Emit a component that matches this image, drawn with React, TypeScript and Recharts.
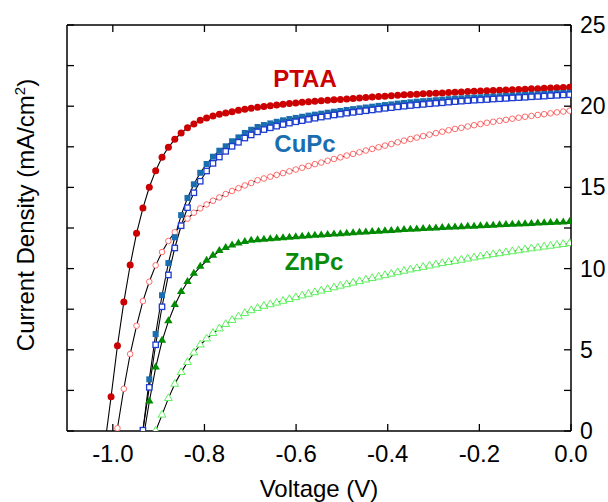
import React from 'react';
import { LineChart, Line, XAxis, YAxis } from 'recharts';

// voltage sweep (V), one row per measured point
const VOLTAGE = [
  -1.0177, -1.0038, -0.9899, -0.976, -0.9621, -0.9482, -0.9343, -0.9204, -0.9065, -0.8926,
  -0.8787, -0.8648, -0.8509, -0.837, -0.8231, -0.8092, -0.7953, -0.7814, -0.7675, -0.7536,
  -0.7397, -0.7258, -0.7119, -0.698, -0.6841, -0.6702, -0.6563, -0.6424, -0.6285, -0.6146,
  -0.6007, -0.5868, -0.5729, -0.559, -0.5451, -0.5312, -0.5173, -0.5034, -0.4895, -0.4756,
  -0.4617, -0.4478, -0.4339, -0.42, -0.4061, -0.3922, -0.3783, -0.3644, -0.3505, -0.3366,
  -0.3227, -0.3088, -0.2949, -0.281, -0.2671, -0.2532, -0.2393, -0.2254, -0.2115, -0.1976,
  -0.1837, -0.1698, -0.1559, -0.142, -0.1281, -0.1142, -0.1003, -0.0864, -0.0725, -0.0586,
  -0.0447, -0.0308, -0.0169, -0.003,
];

// current density (mA/cm2)
const PTAA = [
  -0.9, 2.11, 5.25, 7.94, 10.22, 12.17, 13.73, 15.01, 16.03, 16.85,
  17.47, 17.96, 18.35, 18.68, 18.9, 19.13, 19.27, 19.4, 19.5, 19.58,
  19.66, 19.75, 19.81, 19.87, 19.93, 19.98, 20.03, 20.08, 20.12, 20.16,
  20.2, 20.24, 20.27, 20.3, 20.33, 20.36, 20.39, 20.42, 20.45, 20.48,
  20.51, 20.54, 20.57, 20.6, 20.62, 20.65, 20.67, 20.7, 20.72, 20.74,
  20.76, 20.78, 20.8, 20.82, 20.84, 20.86, 20.88, 20.9, 20.92, 20.93,
  20.95, 20.97, 20.98, 21.0, 21.02, 21.03, 21.05, 21.07, 21.08, 21.1,
  21.12, 21.13, 21.15, 21.17,
];
const PTAA_OPEN = [
  null, -2.3, 0.17, 2.6, 4.74, 6.48, 8.0, 9.19, 10.2, 11.02,
  11.7, 12.24, 12.68, 13.08, 13.44, 13.71, 13.95, 14.18, 14.38, 14.59,
  14.78, 14.95, 15.12, 15.27, 15.44, 15.55, 15.66, 15.77, 15.88, 15.99,
  16.1, 16.21, 16.32, 16.43, 16.53, 16.64, 16.75, 16.85, 16.96, 17.06,
  17.16, 17.27, 17.37, 17.47, 17.57, 17.67, 17.78, 17.88, 17.98, 18.07,
  18.16, 18.25, 18.34, 18.43, 18.52, 18.6, 18.67, 18.75, 18.83, 18.9,
  18.98, 19.04, 19.1, 19.16, 19.23, 19.29, 19.35, 19.4, 19.46, 19.51,
  19.56, 19.62, 19.67, 19.72,
];
const CUPC = [
  null, null, null, null, null, -3.0, 0.02, 3.18, 5.97, 8.36,
  10.34, 11.93, 13.29, 14.35, 15.19, 15.9, 16.44, 16.89, 17.26, 17.53,
  17.84, 18.08, 18.35, 18.55, 18.72, 18.84, 18.94, 19.04, 19.13, 19.21,
  19.28, 19.35, 19.42, 19.48, 19.54, 19.6, 19.66, 19.71, 19.77, 19.82,
  19.87, 19.92, 19.97, 20.02, 20.07, 20.11, 20.16, 20.2, 20.24, 20.28,
  20.31, 20.34, 20.37, 20.4, 20.43, 20.46, 20.48, 20.51, 20.53, 20.55,
  20.57, 20.59, 20.61, 20.63, 20.65, 20.67, 20.69, 20.71, 20.73, 20.75,
  20.77, 20.79, 20.81, 20.83,
];
const CUPC_OPEN = [
  null, null, null, null, null, -3.2, 0.05, 2.69, 5.31, 7.65,
  9.61, 11.27, 12.64, 13.75, 14.67, 15.38, 16.01, 16.48, 16.87, 17.22,
  17.53, 17.78, 18.04, 18.23, 18.42, 18.56, 18.67, 18.77, 18.87, 18.96,
  19.04, 19.11, 19.19, 19.26, 19.33, 19.39, 19.46, 19.51, 19.57, 19.62,
  19.67, 19.72, 19.77, 19.82, 19.87, 19.91, 19.96, 20.0, 20.04, 20.08,
  20.11, 20.15, 20.18, 20.21, 20.25, 20.28, 20.31, 20.34, 20.37, 20.39,
  20.41, 20.44, 20.46, 20.48, 20.51, 20.53, 20.55, 20.58, 20.6, 20.62,
  20.65, 20.67, 20.69, 20.71,
];
const ZNPC = [
  null, null, null, null, null, null, -0.6, 1.8, 3.9, 5.54,
  6.75, 7.74, 8.54, 9.17, 9.67, 10.1, 10.47, 10.78, 11.07, 11.25,
  11.41, 11.53, 11.62, 11.7, 11.74, 11.77, 11.8, 11.83, 11.86, 11.89,
  11.92, 11.95, 11.98, 12.01, 12.03, 12.06, 12.09, 12.11, 12.14, 12.16,
  12.19, 12.21, 12.24, 12.26, 12.29, 12.31, 12.33, 12.36, 12.38, 12.4,
  12.42, 12.44, 12.46, 12.48, 12.5, 12.52, 12.54, 12.56, 12.57, 12.59,
  12.61, 12.63, 12.65, 12.67, 12.69, 12.7, 12.72, 12.74, 12.76, 12.78,
  12.8, 12.81, 12.83, 12.85,
];
const ZNPC_OPEN = [
  null, null, null, null, null, null, null, -1.0, 0.0, 0.99,
  2.01, 2.89, 3.61, 4.23, 4.82, 5.31, 5.68, 6.02, 6.3, 6.57,
  6.82, 7.04, 7.25, 7.42, 7.56, 7.69, 7.79, 7.89, 8.0, 8.11,
  8.22, 8.33, 8.43, 8.53, 8.63, 8.73, 8.83, 8.93, 9.02, 9.12,
  9.21, 9.31, 9.4, 9.49, 9.58, 9.67, 9.76, 9.85, 9.93, 10.01,
  10.09, 10.17, 10.24, 10.32, 10.39, 10.46, 10.53, 10.6, 10.67, 10.74,
  10.8, 10.87, 10.93, 10.99, 11.05, 11.11, 11.17, 11.23, 11.28, 11.34,
  11.39, 11.45, 11.5, 11.55,
];

const X_TICKS = [-1.0, -0.8, -0.6, -0.4, -0.2, 0.0];
const Y_TICKS = [0, 2.5, 5, 7.5, 10, 12.5, 15, 17.5, 20, 22.5, 25];

const data = VOLTAGE.map((v, i) => ({
  v,
  ptaa: PTAA[i],
  ptaaOpen: PTAA_OPEN[i],
  cupc: CUPC[i],
  cupcOpen: CUPC_OPEN[i],
  znpc: ZNPC[i],
  znpcOpen: ZNPC_OPEN[i],
}));

const SERIES = [
  { key: 'ptaaOpen', shape: 'circleOpen', color: '#ff6b6b' },
  { key: 'ptaa', shape: 'circle', color: '#cc0000' },
  { key: 'znpcOpen', shape: 'triangleOpen', color: '#5ef05e' },
  { key: 'znpc', shape: 'triangle', color: '#008c00' },
  { key: 'cupc', shape: 'square', color: '#1a6eb0' },
  { key: 'cupcOpen', shape: 'squareOpen', color: '#1c3cd0' },
];

const FONT = 'Arial, "Liberation Sans", sans-serif';
const TICK = 7;
const AXIS = { stroke: '#000', strokeWidth: 1.5 };

const BottomTick = (props: any) => {
  const { x, y, payload } = props;
  return (
    <g>
      <line x1={x} y1={y} x2={x} y2={y - TICK} stroke="#000" strokeWidth={1.3} />
      <text x={x} y={y + 31} textAnchor="middle" fontSize={24} fontFamily={FONT} fill="#000">
        {Number(payload.value).toFixed(1)}
      </text>
    </g>
  );
};

const TopTick = (props: any) => {
  const { x, y } = props;
  return <line x1={x} y1={y} x2={x} y2={y + TICK} stroke="#000" strokeWidth={1.3} />;
};

const RightTick = (props: any) => {
  const { x, y, payload } = props;
  const v = Number(payload.value);
  return (
    <g>
      <line x1={x} y1={y} x2={x - TICK} y2={y} stroke="#000" strokeWidth={1.3} />
      {v % 5 === 0 && (
        <text x={x + 9} y={y + 8} textAnchor="start" fontSize={23} fontFamily={FONT} fill="#000">
          {v}
        </text>
      )}
    </g>
  );
};

const LeftTick = (props: any) => {
  const { x, y } = props;
  return <line x1={x} y1={y} x2={x + TICK} y2={y} stroke="#000" strokeWidth={1.3} />;
};

const makeDot = (shape: string, color: string) => (props: any) => {
  const { cx, cy, value, index } = props;
  if (value == null || value < 0 || cx == null || cy == null) return <g key={index} />;
  switch (shape) {
    case 'circle':
      return <circle key={index} cx={cx} cy={cy} r={3.5} fill={color} />;
    case 'circleOpen':
      return <circle key={index} cx={cx} cy={cy} r={2.8} fill="#fff" stroke={color} strokeWidth={1} />;
    case 'square':
      return <rect key={index} x={cx - 3} y={cy - 3} width={6} height={6} fill={color} />;
    case 'squareOpen':
      return (
        <rect key={index} x={cx - 2.7} y={cy - 2.7} width={5.4} height={5.4} fill="#fff" stroke={color} strokeWidth={1.3} />
      );
    case 'triangle':
      return (
        <polygon key={index} points={`${cx},${cy - 5.2} ${cx + 4.2},${cy + 1.8} ${cx - 4.2},${cy + 1.8}`} fill={color} />
      );
    default:
      return (
        <polygon
          key={index}
          points={`${cx},${cy - 4.6} ${cx + 3.9},${cy + 2.2} ${cx - 3.9},${cy + 2.2}`}
          fill="#fff"
          stroke={color}
          strokeWidth={1}
        />
      );
  }
};

export default function App() {
  return (
    <div style={{ position: 'absolute', left: 0, top: 0, width: 608, height: 502, background: '#fff' }}>
      <LineChart width={608} height={502} data={data} margin={{ top: 24, right: 36, bottom: 70, left: 66 }}>
        <XAxis
          xAxisId="b"
          dataKey="v"
          type="number"
          domain={[-1.1, 0]}
          ticks={X_TICKS}
          interval={0}
          tickSize={0}
          tickMargin={0}
          tickLine={false}
          tick={BottomTick}
          height={1}
          allowDataOverflow
          axisLine={AXIS}
        />
        <XAxis
          xAxisId="t"
          orientation="top"
          dataKey="v"
          type="number"
          domain={[-1.1, 0]}
          ticks={X_TICKS}
          interval={0}
          tickSize={0}
          tickMargin={0}
          tickLine={false}
          tick={TopTick}
          height={1}
          allowDataOverflow
          axisLine={AXIS}
        />
        <YAxis
          yAxisId="r"
          orientation="right"
          type="number"
          domain={[0, 25]}
          ticks={Y_TICKS}
          interval={0}
          tickSize={0}
          tickMargin={0}
          tickLine={false}
          tick={RightTick}
          width={1}
          allowDataOverflow
          axisLine={AXIS}
        />
        <YAxis
          yAxisId="l"
          orientation="left"
          type="number"
          domain={[0, 25]}
          ticks={Y_TICKS}
          interval={0}
          tickSize={0}
          tickMargin={0}
          tickLine={false}
          tick={LeftTick}
          width={1}
          allowDataOverflow
          axisLine={AXIS}
        />
        {SERIES.map((s) => (
          <Line
            key={s.key + '-line'}
            xAxisId="b"
            yAxisId="r"
            type="linear"
            dataKey={s.key}
            stroke="#000"
            strokeWidth={1.1}
            dot={false}
            activeDot={false}
            isAnimationActive={false}
          />
        ))}
        {SERIES.map((s) => (
          <Line
            key={s.key + '-dots'}
            xAxisId="b"
            yAxisId="r"
            type="linear"
            dataKey={s.key}
            stroke="none"
            dot={makeDot(s.shape, s.color)}
            activeDot={false}
            isAnimationActive={false}
          />
        ))}
      </LineChart>
      <svg
        width={608}
        height={502}
        style={{ position: 'absolute', left: 0, top: 0, pointerEvents: 'none' }}
        fontFamily={FONT}
      >
        <text x={305} y={86.5} textAnchor="middle" fontSize={24} fontWeight="bold" fill="#cc0000">
          PTAA
        </text>
        <text x={305} y={151.5} textAnchor="middle" fontSize={24} fontWeight="bold" fill="#1a6eb0">
          CuPc
        </text>
        <text x={314} y={270} textAnchor="middle" fontSize={24} fontWeight="bold" fill="#0a8a0a">
          ZnPc
        </text>
        <text x={319} y={497} textAnchor="middle" fontSize={24} fill="#000">
          Voltage (V)
        </text>
        <text x={34} y={215} textAnchor="middle" fontSize={24} fill="#000" transform="rotate(-90 34 215)">
          Current Density (mA/cm<tspan dy={-9} fontSize={15}>2</tspan>
          <tspan dy={9}>)</tspan>
        </text>
      </svg>
    </div>
  );
}
